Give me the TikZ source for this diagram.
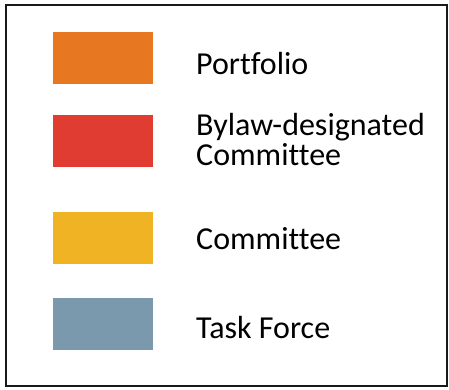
\documentclass[tikz,border=0pt]{standalone}
\usepackage{fontspec}
\setmainfont[Ligatures=NoCommon]{Carlito}
\definecolor{cport}{RGB}{232,119,34}
\definecolor{cbylaw}{RGB}{224,60,49}
\definecolor{ccomm}{RGB}{240,179,35}
\definecolor{ctask}{RGB}{122,153,172}
\begin{document}
\begin{tikzpicture}[x=1pt,y=-1pt,
  swatch/.style={fill=#1,draw=none},
  lbl/.style={anchor=base west,inner sep=0pt,font=\fontsize{32}{30}\selectfont,align=left}]
\useasboundingbox (0,0) rectangle (449,389);
\draw[line width=2.6pt,draw=black!90] (6,5) rectangle (447,386);
\fill[swatch=cport] (53,32) rectangle (153,84);
\fill[swatch=cbylaw] (53,115) rectangle (153,167);
\fill[swatch=ccomm] (53,212) rectangle (153,264);
\fill[swatch=ctask] (53,298) rectangle (153,350);
\node[lbl] (p) at (196,74) {Portfolio};
\node[lbl] (b1) at (196,135) {Bylaw-designated};
\node[lbl] (b2) at (196,165) {Committee};
\node[lbl] (c) at (196,249) {Committee};
\node[lbl] (t) at (196,338) {Task Force};
\end{tikzpicture}
\end{document}
